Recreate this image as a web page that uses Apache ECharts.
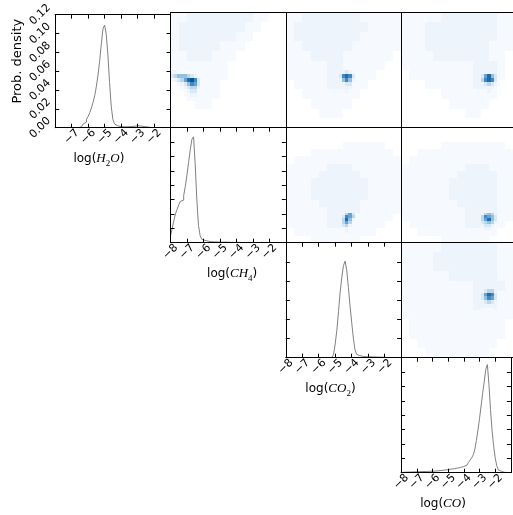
<!DOCTYPE html>
<html><head><meta charset="utf-8">
<script src="https://cdn.jsdelivr.net/npm/echarts@6/dist/echarts.min.js"></script>
<style>html,body{margin:0;padding:0;background:#fff}#c{width:513px;height:515px}</style>
</head><body><div id="c"></div>
<script>
// ---------------- DATA ----------------
const paramNames = ['H2O', 'CH4', 'CO2', 'CO'];
const xTickValues = [-8, -7, -6, -5, -4, -3, -2, -1];
const densityTicks = [0.00, 0.02, 0.04, 0.06, 0.08, 0.10, 0.12];

// 1D marginal histograms (bin width 0.1, first value = left edge)
const histBin = 0.1;
const histH2OStart = -6.6;
const histH2O = [0.000,0.001,0.002,0.004,0.006,0.009,0.012,0.016,0.021,0.027,
  0.034,0.044,0.056,0.071,0.089,0.105,0.109,0.099,0.077,0.048,
  0.023,0.009,0.004,0.002,0.0015,0.0012,0.001,0.001,0.001,0.001,
  0.0012,0.0012,0.0015,0.0015,0.002,0.002,0.002,0.0018,0.0015,0.0012,
  0.001,0.0008,0.0005,0.0003];
const histCH4Start = -8.0;
const histCH4 = [0.06,0.12,0.19,0.25,0.29,0.33,0.36,0.37,0.41,0.49,
  0.59,0.70,0.81,0.90,0.92,0.68,0.37,0.15,0.06,0.03,
  0.02,0.016,0.013,0.011,0.009,0.008,0.007,0.007,0.006,0.006,
  0.005,0.005,0.005,0.004,0.004,0.004,0.003,0.003,0.003,0.003,
  0.003,0.002,0.002,0.002,0.002,0.002,0.002,0.001,0.001,0.001,0.001];
const histCO2Start = -5.2;
const histCO2 = [0.003,0.03,0.12,0.24,0.40,0.57,0.70,0.80,0.84,0.76,
  0.61,0.45,0.31,0.17,0.07,0.03,0.018,0.013,0.011,0.01,
  0.009,0.008,0.008,0.007,0.007,0.006,0.006,0.005,0.005,0.004,
  0.004,0.003,0.003,0.002];
const histCOStart = -8.0;
const histCO = [0.003,0.004,0.004,0.005,0.005,0.006,0.006,0.007,0.007,0.008,
  0.008,0.009,0.009,0.010,0.010,0.011,0.011,0.012,0.012,0.013,
  0.014,0.015,0.016,0.017,0.018,0.020,0.021,0.023,0.025,0.027,
  0.029,0.031,0.033,0.035,0.038,0.040,0.043,0.046,0.050,0.054,
  0.058,0.065,0.075,0.090,0.11,0.13,0.155,0.20,0.28,0.37,
  0.47,0.58,0.69,0.79,0.90,0.94,0.77,0.55,0.37,0.23,
  0.13,0.06,0.025,0.012,0.006,0.003,0.002,0.001,0.001,0.001];

// 2D densities: levels 0-9. Coarse background (0.5 bins, from x=-8 and top of y range),
// fine core (0.2 bins, first cell centre given).
const bgH2O_CH4 = [
  "11222222221100","12222222211000","12222222110000","12222211100000",
  "11222111000000","11111110000000","11111110000000","01111100000000",
  "00111100000000","00011000000000","00000000000000","00000000000000"];
const coreH2O_CH4 = ["221110000","345554321","123468973","001235763",
  "000123442","000012331","000011221","000001110"];
const coreH2O_CH4_x = -7.9, coreH2O_CH4_y = -5.1;

const bgH2O_CO2 = [
  "11222222211111","12222222221111","12222222211111","11222222111111",
  "11122221111110","11111221111100","11111221111000","01111221110000",
  "00111111100000","00011111000000","00001110000000","00000000000000"];
const coreH2O_CO2 = ["0123210","1378731","1257521","0123310","0122210","0112110","0011100","0011100"];
const coreH2O_CO2_x = -4.9, coreH2O_CO2_y = -5.1;

const bgH2O_CO = [
  "11111222222211","11122222222211","11122222222211","11122222222111",
  "11112222222110","11111111122210","01111111122210","00011111122100",
  "00000111111100","00000011111000","00000000110000","00000000000000"];
const coreH2O_CO = ["011222100","123685310","124787310","112343210",
  "011222100","011121100","001111000","001110000"];
const coreH2O_CO_x = -3.3, coreH2O_CO_y = -5.1;

const bgCH4_CO2 = [
  "00000000000000","00000000000000","00000001111100","00011111111110",
  "01111111111111","11111222111111","11112222211111","11122222221111",
  "11122222221111","11122222221111","11112222211111","11111222211111",
  "11111222111110","11111222111100","01111111111000","00011111100000"];
const coreCH4_CO2 = ["001210","014631","137641","148520","146410","034210","012100","012100","011000"];
const coreCH4_CO2_x = -4.7, coreCH4_CO2_y = -5.8;

const bgCH4_CO = [
  "00000000000000","00000000000000","00000111111110","00111111111111",
  "01111111111111","11111111222111","11111112222211","11111122222211",
  "11111122222211","11111122222211","11111112222211","11111111222211",
  "11111111222111","01111111222110","00111111111100","00000111111000"];
const coreCH4_CO = ["0112110","1245420","1476531","1468531","1345420","0133210","0122100","0011100","0011000"];
const coreCH4_CO_x = -3.1, coreCH4_CO_y = -5.8;

const bgCO2_CO = [
  "11111222222211","11112222222211","11112222222211","11111122222211",
  "11111111122221","11111111122211","11111111122211","11111111111111",
  "01111111111110","01111111111110","00111111111100","00011111111000"];
const coreCO2_CO = ["0111100","1234420","1368731","1357631","1234320","0122210","0111100"];
const coreCO2_CO_x = -3.1, coreCO2_CO_y = -4.3;

// ---------------- LAYOUT / STYLE ----------------
const PX = 55.2, PY = 12.7, SW = 115.3, SH = 115.0;
const palette = ['#ffffff','#f6f9fd','#eef4fb','#dae8f5','#bad6ec','#92c1e0','#62a4d3','#3f89c4','#2669ad','#134f93'];
const black = {color:'#000', width:1};
const histColor = '#808080';
const nameRich = {
  a: {fontFamily:'DejaVu Sans', fontSize:12, color:'#000', lineHeight:18, verticalAlign:'middle'},
  i: {fontFamily:'Liberation Serif', fontStyle:'italic', fontSize:13, color:'#000', lineHeight:18, verticalAlign:'middle'},
  s: {fontFamily:'Liberation Serif', fontSize:9, color:'#000', lineHeight:9, verticalAlign:'bottom'}
};
const axisNames = {
  H2O: '{a|log(}{i|H}{s|2}{i|O}{a|)}',
  CH4: '{a|log(}{i|CH}{s|4}{a|)}',
  CO2: '{a|log(}{i|CO}{s|2}{a|)}',
  CO:  '{a|log(}{i|CO}{a|)}'
};

const grids = [], xAxis = [], yAxis = [], series = [];

function addGrid(row, col) {
  grids.push({left: PX + col*SW, top: PY + row*SH, width: SW, height: SH});
  return grids.length - 1;
}

function addAxes(g, o) {
  const isHist = o.hist;
  const tick = {show:isHist, inside:true, length:4, lineStyle:black};
  const xi = xAxis.length;
  const xb = {gridIndex:g, type:'value', position:'bottom', min:xTickValues[0], max:xTickValues[xTickValues.length-1], interval:1, z:5,
    axisLine:{show:true, onZero:false, lineStyle:black}, axisTick:tick, splitLine:{show:false},
    axisLabel:{show:isHist, rotate:45, align:'center', verticalAlign:'middle', margin:9, fontSize:11, color:'#000', fontFamily:'DejaVu Sans',
      formatter: v => (v === -1 || (o.hideMinX && v === -8)) ? '' : '\u2212' + Math.abs(v)}};
  if (o.name) {
    xb.name = axisNames[o.name];
    xb.nameLocation = 'middle';
    xb.nameGap = 22;
    const sh = o.nameShift;
    xb.nameTextStyle = {rich: nameRich, padding: sh < 0 ? [0, -2*sh, 0, 0] : [0, 0, 0, 2*sh]};
  }
  xAxis.push(xb);
  xAxis.push({gridIndex:g, type:'value', position:'top', min:-8, max:-1, interval:1, z:5,
    axisLine:{show:true, onZero:false, lineStyle:black}, axisTick:tick, splitLine:{show:false}, axisLabel:{show:false}});
  const yi = yAxis.length;
  const yl = {gridIndex:g, type:'value', position:'left', min:o.yMin, max:o.yMax, interval:o.yInt, z:5,
    axisLine:{show:true, onZero:false, lineStyle:black}, axisTick:tick, splitLine:{show:false},
    axisLabel:{show:!!o.yLabels, rotate:45, align:'center', verticalAlign:'middle', margin:15, fontSize:11, color:'#000', fontFamily:'DejaVu Sans',
      formatter: v => v.toFixed(2)}};
  if (o.yName) {
    yl.name = o.yName; yl.nameLocation = 'middle'; yl.nameGap = 31; yl.nameRotate = 90;
    yl.nameTextStyle = {fontFamily:'DejaVu Sans', fontSize:13, color:'#000', padding:[0,0,0,20]};
  }
  yAxis.push(yl);
  yAxis.push({gridIndex:g, type:'value', position:'right', min:o.yMin, max:o.yMax, interval:o.yInt, z:5,
    axisLine:{show:true, onZero:false, lineStyle:black}, axisTick:tick, splitLine:{show:false}, axisLabel:{show:false}});
  return {x: xi, y: yi};
}

function histPoints(start, vals) {
  const pts = [[start, 0]];
  vals.forEach((v, i) => pts.push([+(start + i*histBin).toFixed(3), v]));
  const end = +(start + vals.length*histBin).toFixed(3);
  pts.push([end, vals[vals.length-1]]);
  pts.push([end, 0]);
  return pts;
}

function addHist(row, start, vals, o) {
  const g = addGrid(row, row);
  const ax = addAxes(g, Object.assign({hist:true}, o));
  series.push({type:'line', xAxisIndex:ax.x, yAxisIndex:ax.y, data:histPoints(start, vals), step:'end',
    symbol:'none', lineStyle:{color:histColor, width:1}, silent:true, animation:false, z:3});
}

function rectRender(step) {
  return function (params, api) {
    const x = api.value(0), y = api.value(1);
    const a = api.coord([x - step/2, y + step/2]);
    const b = api.coord([x + step/2, y - step/2]);
    const x0 = Math.round(a[0]), y0 = Math.round(a[1]);
    return {type:'rect', shape:{x:x0, y:y0, width:Math.round(b[0]) - x0, height:Math.round(b[1]) - y0},
      style:{fill: palette[api.value(2)]}};
  };
}

function addDensity(row, col, yMin, yMax, bg, core, cx, cy) {
  const g = addGrid(row, col);
  const ax = addAxes(g, {hist:false, yMin:yMin, yMax:yMax, yInt:1});
  const bgStep = 0.5, coreStep = 0.2;
  const bgLevel = (x, y) => {
    const r = Math.floor((yMax - y)/bgStep), c = Math.floor((x - xTickValues[0])/bgStep);
    return (bg[r] && bg[r][c]) ? +bg[r][c] : 0;
  };
  const bgData = [];
  bg.forEach((r, i) => { for (let j = 0; j < r.length; j++) { const v = +r[j]; if (v > 0) bgData.push([xTickValues[0] + bgStep/2 + j*bgStep, yMax - bgStep/2 - i*bgStep, v]); } });
  const coreData = [];
  core.forEach((r, i) => { for (let j = 0; j < r.length; j++) {
    const x = +(cx + j*coreStep).toFixed(3), y = +(cy - i*coreStep).toFixed(3);
    const v = Math.max(+r[j], bgLevel(x, y));
    if (+r[j] > 0) coreData.push([x, y, v]);
  } });
  [[bgData, bgStep], [coreData, coreStep]].forEach(([d, st]) => {
    series.push({type:'custom', coordinateSystem:'cartesian2d', xAxisIndex:ax.x, yAxisIndex:ax.y,
      data:d, renderItem:rectRender(st), encode:{x:0, y:1}, clip:true, silent:true, animation:false, z:2});
  });
}

// diagonal histograms
addHist(0, histH2OStart, histH2O, {yMin:0, yMax:densityTicks[densityTicks.length-1], yInt:0.02, yLabels:true, yName:'Prob. density', name:'H2O', nameShift:-14, hideMinX:true});
addHist(1, histCH4Start, histCH4, {yMin:0, yMax:1, yInt:0.125, name:'CH4', nameShift:4});
addHist(2, histCO2Start, histCO2, {yMin:0, yMax:1, yInt:1/6, name:'CO2', nameShift:-13});
addHist(3, histCOStart, histCO, {yMin:0, yMax:1, yInt:0.125, name:'CO', nameShift:-13});

// 2D densities (upper triangle)
addDensity(0, 1, -8, -2, bgH2O_CH4, coreH2O_CH4, coreH2O_CH4_x, coreH2O_CH4_y);
addDensity(0, 2, -8, -2, bgH2O_CO2, coreH2O_CO2, coreH2O_CO2_x, coreH2O_CO2_y);
addDensity(0, 3, -8, -2, bgH2O_CO, coreH2O_CO, coreH2O_CO_x, coreH2O_CO_y);
addDensity(1, 2, -8, 0, bgCH4_CO2, coreCH4_CO2, coreCH4_CO2_x, coreCH4_CO2_y);
addDensity(1, 3, -8, 0, bgCH4_CO, coreCH4_CO, coreCH4_CO_x, coreCH4_CO_y);
addDensity(2, 3, -8, -2, bgCO2_CO, coreCO2_CO, coreCO2_CO_x, coreCO2_CO_y);

const chart = echarts.init(document.getElementById('c'), null, {renderer:'canvas', width:513, height:515});
chart.setOption({animation:false, backgroundColor:'#fff', grid:grids, xAxis:xAxis, yAxis:yAxis, series:series});
</script>
</body></html>
